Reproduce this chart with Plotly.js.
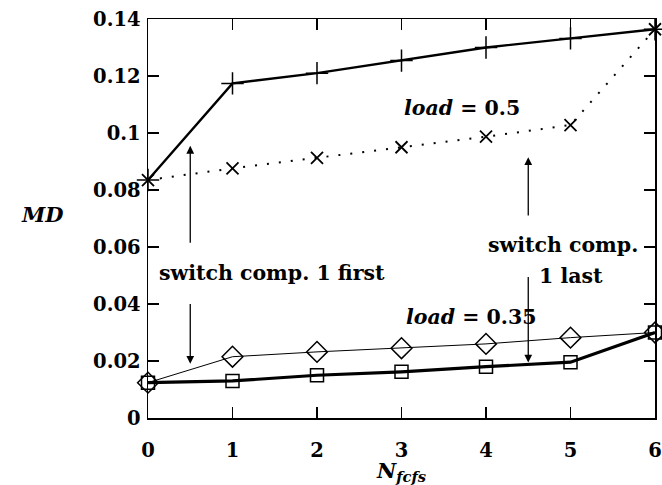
<!DOCTYPE html>
<html>
<head>
<meta charset="utf-8">
<script src="https://cdn.plot.ly/plotly-3.0.1.min.js"></script>
<style>html,body{margin:0;padding:0;background:#fff;}</style>
</head>
<body>
<div id="chart" style="width:662px;height:485px;"></div>
<script>
// N_fcfs values
const nfcfs = [0, 1, 2, 3, 4, 5, 6];
// load = 0.5
const load05First = [0.0835, 0.1174, 0.121, 0.1254, 0.130, 0.1332, 0.1364];
const load05Last  = [0.0835, 0.0876, 0.0913, 0.095, 0.0987, 0.1028, 0.1364];
// load = 0.35
const load035First = [0.0124, 0.0215, 0.0232, 0.0245, 0.026, 0.0282, 0.0300];
const load035Last  = [0.0124, 0.013, 0.015, 0.0162, 0.018, 0.0196, 0.0300];
const xTickLabels = ['0', '1', '2', '3', '4', '5', '6'];

const FONT = 'DejaVu Serif';
const traces = [
  {x: nfcfs, y: load05First, mode: 'lines+markers', line: {color: '#000', width: 2.4},
   marker: {symbol: 'cross-thin-open', size: 16, line: {color: '#000', width: 1.5}}, cliponaxis: false},
  {x: nfcfs, y: load05Last, mode: 'lines+markers', line: {color: '#000', width: 2, dash: '2px,10px'},
   marker: {symbol: 'x-thin-open', size: 12, line: {color: '#000', width: 1.8}}, cliponaxis: false},
  {x: nfcfs, y: load035First, mode: 'lines+markers', line: {color: '#000', width: 1},
   marker: {symbol: 'diamond-open', size: 16, color: '#000', line: {color: '#000', width: 1.5}}, cliponaxis: false},
  {x: nfcfs, y: load035Last, mode: 'lines+markers', line: {color: '#000', width: 3.2},
   marker: {symbol: 'square-open', size: 13, color: '#000', line: {color: '#000', width: 1.5}}, cliponaxis: false}
];

function arrow(x, yTail, yHead) {
  return {x: x, y: yHead, ax: x, ay: yTail, xref: 'x', yref: 'y', axref: 'x', ayref: 'y',
    text: '', showarrow: true, arrowhead: 2, arrowsize: 1.2, arrowwidth: 1.3, arrowcolor: '#000', standoff: 0};
}
function label(x, y, txt) {
  return {x: x, y: y, xref: 'x', yref: 'y', text: txt, showarrow: false,
    xanchor: 'center', yanchor: 'middle',
    font: {family: FONT, size: 20.5, color: '#000', weight: 'bold'}};
}

const layout = {
  width: 662, height: 485,
  margin: {l: 148, r: 7, t: 19, b: 67},
  paper_bgcolor: '#fff', plot_bgcolor: '#fff',
  showlegend: false,
  font: {family: FONT, size: 19, color: '#000', weight: 'bold'},
  xaxis: {
    range: [0, 6], tickvals: nfcfs, ticktext: xTickLabels,
    ticks: 'inside', ticklen: 11, tickwidth: 1.2, tickcolor: '#000',
    showline: true, linecolor: '#000', linewidth: 1.5, mirror: 'ticks',
    showgrid: false, zeroline: false, ticklabelstandoff: 14,
    tickfont: {family: FONT, size: 19.5, color: '#000', weight: 'bold'},
    title: {text: '<i>N</i><sub><i>fcfs</i></sub>', standoff: 2,
      font: {family: FONT, size: 21, color: '#000', weight: 'bold'}}
  },
  yaxis: {
    range: [0, 0.14], dtick: 0.02, tick0: 0,
    ticks: 'inside', ticklen: 11, tickwidth: 1.2, tickcolor: '#000',
    showline: true, linecolor: '#000', linewidth: 1.5, mirror: 'ticks',
    showgrid: false, zeroline: false, ticklabelstandoff: 2,
    tickfont: {family: FONT, size: 19.5, color: '#000', weight: 'bold'}
  },
  annotations: [
    {x: (42 - 148) / 507, y: 0.0715, xref: 'paper', yref: 'y', text: '<i>MD</i>', showarrow: false,
     xanchor: 'center', yanchor: 'middle',
     font: {family: FONT, size: 21, color: '#000', weight: 'bold'}},
    label(3.72, 0.1088, '<i>load</i> = 0.5'),
    label(3.82, 0.0355, '<i>load</i> = 0.35'),
    label(1.47, 0.0509, 'switch comp. 1 first'),
    label(4.91, 0.0607, 'switch comp.'),
    label(5.0, 0.0498, '1 last'),
    arrow(0.5, 0.061, 0.0955),
    arrow(0.5, 0.0405, 0.019),
    arrow(4.5, 0.0705, 0.0915),
    arrow(4.5, 0.050, 0.0195)
  ]
};

Plotly.newPlot('chart', traces, layout, {staticPlot: true, displayModeBar: false});
</script>
</body>
</html>
